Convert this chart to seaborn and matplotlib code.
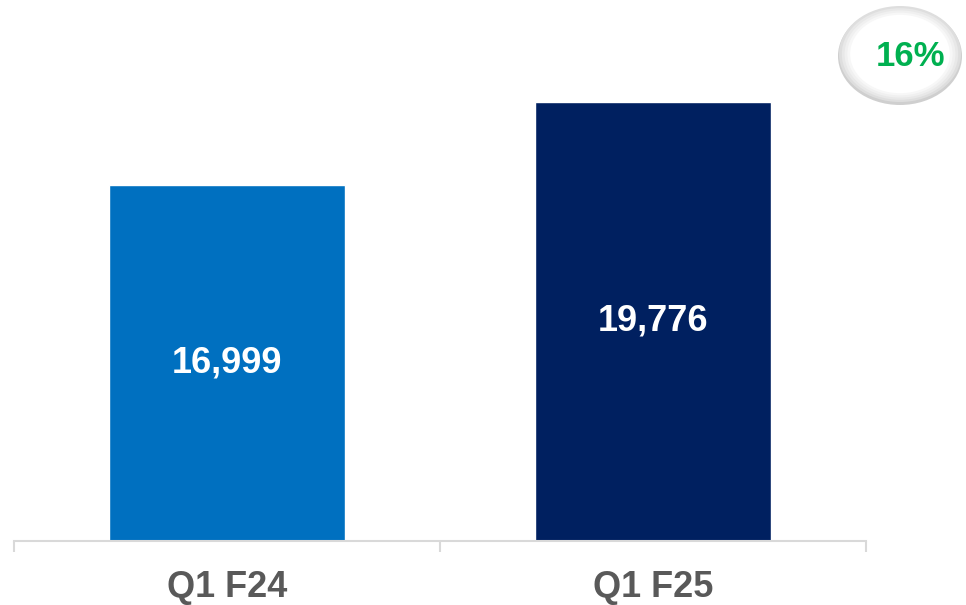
import numpy as np
import pandas as pd
import matplotlib
matplotlib.use("Agg")
import matplotlib.pyplot as plt
from matplotlib.patches import Ellipse
import seaborn as sns

# data
quarters = ["Q1 F24", "Q1 F25"]
revenue = [16999, 19776]
value_labels = ["16,999", "19,776"]
bar_colors = ["#0070C0", "#002060"]
growth_label = "16%"

sns.set_theme(style="white")
plt.rcParams['font.family'] = ['Liberation Sans', 'DejaVu Sans']

df = pd.DataFrame({"quarter": quarters, "revenue": revenue})

fig = plt.figure(figsize=(9.66, 6.05), dpi=100)
ax = fig.add_axes([14 / 966, 1 - 541 / 605, 852 / 966, 541 / 605])

sns.barplot(data=df, x="quarter", y="revenue", hue="quarter",
            palette=bar_colors, width=0.556, legend=False, ax=ax,
            saturation=1)

ax.set_ylim(5000, 23209)
ax.set_xlim(-0.5, 1.5)

# values centred inside the bars
for i, (v, lab) in enumerate(zip(revenue, value_labels)):
    ax.text(i, (v + 5000) / 2, lab, ha="center", va="center",
            color="white", fontsize=26, fontweight="bold")

# axis styling
for side in ["top", "right", "left"]:
    ax.spines[side].set_visible(False)
ax.spines["bottom"].set_color("#d9d9d9")
ax.spines["bottom"].set_linewidth(1.5)
ax.set_yticks([])
ax.set_xlabel("")
ax.set_ylabel("")
ax.set_xticks([-0.5, 0.5, 1.5], minor=True)
ax.tick_params(axis="x", which="minor", bottom=True, direction="out",
               length=8, width=1.5, color="#d9d9d9")
ax.tick_params(axis="x", which="major", bottom=False, pad=15,
               labelsize=26, labelcolor="#595959")
for t in ax.get_xticklabels():
    t.set_fontweight("bold")

# growth bubble in the top right corner (soft grey rim fading to white)
cx, cy = 900 / 966, 1 - 54 / 605
w, h = 124 / 966, 98 / 605
fig.patches.append(Ellipse((cx, cy - 2 / 605), w, h,
                           transform=fig.transFigure, facecolor="#cfcfcf",
                           edgecolor="none", zorder=1))
shades = ["#dedede", "#e8e8e8", "#f0f0f0", "#f7f7f7", "#ffffff"]
for k, c in enumerate(shades):
    s = 1 - 0.045 * k
    fig.patches.append(Ellipse((cx, cy), w * s - 2 / 966, h * s - 2 / 605,
                               transform=fig.transFigure, facecolor=c,
                               edgecolor="none", zorder=2 + k))
fig.text(911 / 966, 1 - 57 / 605, growth_label, ha="center", va="center",
         color="#00B050", fontsize=25, fontweight="bold", zorder=20)

fig.savefig("out.png", dpi=100)
